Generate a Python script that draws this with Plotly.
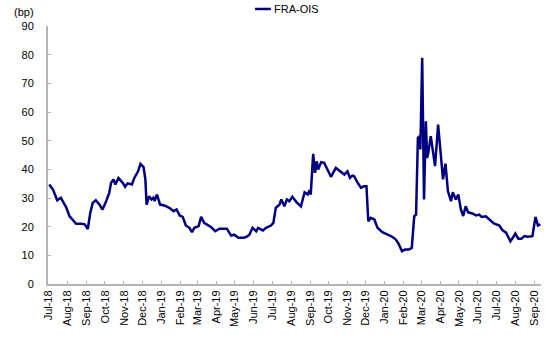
import plotly.graph_objects as go

# FRA-OIS spread (basis points), sampled dates
dates = [
    "2018-07-02", "2018-07-08", "2018-07-15", "2018-07-21", "2018-07-24", "2018-07-30",
    "2018-08-04", "2018-08-09", "2018-08-15", "2018-08-23", "2018-08-29", "2018-09-03",
    "2018-09-07", "2018-09-11", "2018-09-16", "2018-09-22", "2018-09-27", "2018-10-03",
    "2018-10-08", "2018-10-11", "2018-10-15", "2018-10-18", "2018-10-23", "2018-10-30",
    "2018-11-03", "2018-11-07", "2018-11-14", "2018-11-18", "2018-11-24", "2018-11-28",
    "2018-12-03", "2018-12-06", "2018-12-08", "2018-12-12", "2018-12-16", "2018-12-19",
    "2018-12-21", "2018-12-25", "2018-12-30", "2019-01-06", "2019-01-14", "2019-01-21",
    "2019-01-26", "2019-01-31", "2019-02-05", "2019-02-10", "2019-02-16", "2019-02-20",
    "2019-02-24", "2019-03-03", "2019-03-07", "2019-03-12", "2019-03-18", "2019-03-23",
    "2019-03-30", "2019-04-06", "2019-04-18", "2019-04-25", "2019-04-30", "2019-05-07",
    "2019-05-16", "2019-05-22", "2019-05-25", "2019-05-30", "2019-06-05", "2019-06-08",
    "2019-06-16", "2019-06-21", "2019-06-29", "2019-07-03", "2019-07-07", "2019-07-13",
    "2019-07-16", "2019-07-21", "2019-07-25", "2019-07-29", "2019-08-03", "2019-08-10",
    "2019-08-17", "2019-08-23", "2019-08-28", "2019-08-31", "2019-09-02", "2019-09-06",
    "2019-09-09", "2019-09-12", "2019-09-14", "2019-09-19", "2019-09-24", "2019-09-29",
    "2019-10-05", "2019-10-13", "2019-10-21", "2019-10-27", "2019-11-01", "2019-11-05",
    "2019-11-09", "2019-11-12", "2019-11-17", "2019-11-23", "2019-11-28", "2019-12-02",
    "2019-12-05", "2019-12-09", "2019-12-15", "2019-12-20", "2019-12-28", "2020-01-05",
    "2020-01-13", "2020-01-19", "2020-01-24", "2020-01-29", "2020-02-03", "2020-02-09",
    "2020-02-14", "2020-02-18", "2020-02-21", "2020-02-24", "2020-02-27", "2020-02-28",
    "2020-03-02", "2020-03-05", "2020-03-08", "2020-03-10", "2020-03-12", "2020-03-16",
    "2020-03-23", "2020-03-28", "2020-04-01", "2020-04-05", "2020-04-09", "2020-04-13",
    "2020-04-18", "2020-04-21", "2020-04-26", "2020-04-30", "2020-05-04", "2020-05-08",
    "2020-05-12", "2020-05-16", "2020-05-23", "2020-05-29", "2020-06-03", "2020-06-07",
    "2020-06-14", "2020-06-19", "2020-06-27", "2020-07-06", "2020-07-11", "2020-07-17",
    "2020-07-24", "2020-07-28", "2020-08-01", "2020-08-06", "2020-08-11", "2020-08-16",
    "2020-08-21", "2020-08-29", "2020-09-03", "2020-09-07", "2020-09-11",
]

fra_ois = [
    34.7, 33.0, 29.2, 30.1, 28.9, 26.6,
    23.7, 22.5, 21.0, 21.0, 20.8, 19.2,
    24.8, 28.3, 29.2, 27.7, 26.0, 28.9,
    31.8, 35.3, 36.5, 34.7, 37.0, 35.3,
    33.9, 35.1, 34.7, 37.0, 39.3, 41.9,
    40.8, 36.5, 27.7, 30.6, 29.5, 30.1,
    28.9, 31.2, 27.7, 27.4, 26.6, 25.4,
    26.0, 23.9, 23.4, 20.4, 19.6, 18.1,
    19.6, 20.2, 23.4, 21.3, 20.4, 19.9,
    18.4, 19.3, 19.3, 16.9, 17.2, 16.1,
    16.1, 16.7, 17.3, 19.6, 18.4, 19.6,
    18.7, 19.6, 20.4, 21.3, 26.6, 27.7,
    29.5, 27.1, 29.5, 28.9, 30.4, 28.5,
    27.1, 32.0, 31.2, 32.7, 31.2, 45.4,
    38.8, 42.8, 39.9, 42.5, 42.3, 39.9,
    37.4, 40.5, 39.3, 38.2, 39.3, 37.0,
    37.8, 37.6, 35.5, 33.6, 34.1, 34.1,
    21.9, 23.1, 22.5, 19.6, 18.1, 17.3,
    16.5, 15.5, 13.8, 11.4, 12.0, 12.0,
    12.6, 23.6, 24.2, 51.0, 51.6, 46.9,
    78.9, 29.5, 56.8, 44.0, 45.8, 51.6,
    41.1, 55.6, 46.9, 36.5, 42.0, 32.4,
    28.9, 32.0, 29.5, 31.2, 26.2, 23.7,
    27.1, 25.0, 24.6, 23.9, 24.2, 23.4,
    23.6, 22.5, 21.1, 20.4, 18.8, 17.9,
    14.9, 16.1, 17.6, 15.8, 15.8, 16.7,
    16.5, 16.7, 23.4, 20.4, 20.8,
]

y_ticks = list(range(0, 91, 10))
series_name = "FRA-OIS"

FONT = "Arial, Liberation Sans, sans-serif"
AXIS_GREY = "#b4b4b4"
LINE_COLOR = "#000080"

fig = go.Figure()
fig.add_trace(go.Scatter(
    x=dates, y=fra_ois, name=series_name, mode="lines",
    line=dict(color=LINE_COLOR, width=2.5),
    showlegend=False,
))

# Compact legend key above the plot (line swatch + label)
legend_y = 1.066
fig.add_shape(
    type="line", xref="paper", yref="paper",
    x0=0.42, x1=0.452, y0=legend_y, y1=legend_y,
    line=dict(color=LINE_COLOR, width=2.5),
)

fig.update_layout(
    width=554, height=339,
    margin=dict(l=48, r=13, t=26, b=55),
    paper_bgcolor="white", plot_bgcolor="white",
    font=dict(family=FONT, size=11, color="black"),
    xaxis=dict(
        type="date",
        range=["2018-06-30", "2020-09-12"],
        tick0="2018-07-01", dtick="M1", tickformat="%b-%y",
        tickangle=-90,
        ticks="inside", ticklen=3, tickcolor=AXIS_GREY, tickwidth=1,
        showline=True, linecolor=AXIS_GREY, linewidth=2,
        showgrid=False, zeroline=False,
        tickfont=dict(family=FONT, size=11, color="black"),
    ),
    yaxis=dict(
        range=[0, 90], tickvals=y_ticks,
        ticks="inside", ticklen=3, tickcolor=AXIS_GREY, tickwidth=1,
        showline=True, linecolor=AXIS_GREY, linewidth=2,
        showgrid=False, zeroline=False,
        ticklabelstandoff=10,
        tickfont=dict(family=FONT, size=11, color="black"),
    ),
    annotations=[
        dict(
            text="(bp)", xref="paper", yref="paper",
            x=-0.025, y=1.055, xanchor="right", yanchor="middle",
            showarrow=False, font=dict(family=FONT, size=11, color="black"),
        ),
        dict(
            text=series_name, xref="paper", yref="paper",
            x=0.454, y=legend_y, xanchor="left", yanchor="middle",
            showarrow=False, font=dict(family=FONT, size=11, color="black"),
        ),
    ],
)

fig.write_html("out.html")
